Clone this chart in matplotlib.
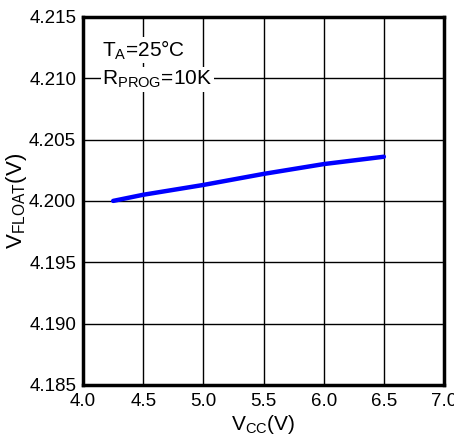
import numpy as np
import matplotlib.pyplot as plt

plt.rcParams['font.family'] = ['Liberation Sans', 'DejaVu Sans']
plt.rcParams['mathtext.fontset'] = 'custom'
plt.rcParams['mathtext.rm'] = 'Liberation Sans'
plt.rcParams['mathtext.it'] = 'Liberation Sans'

# Float voltage vs supply voltage
vcc = [4.25, 4.5, 5.0, 5.5, 6.0, 6.5]
vfloat = [4.2000, 4.2005, 4.2013, 4.2022, 4.2030, 4.2036]

x_ticks = [4.0, 4.5, 5.0, 5.5, 6.0, 6.5, 7.0]
y_ticks = [4.185, 4.190, 4.195, 4.200, 4.205, 4.210, 4.215]

fig = plt.figure(figsize=(4.54, 4.43), dpi=100)
ax = fig.add_axes([0.183, 0.131, 0.795, 0.831])

ax.plot(vcc, vfloat, color='#0000ff', linewidth=3.2, solid_capstyle='round', zorder=3)

ax.set_xlim(4.0, 7.0)
ax.set_ylim(4.185, 4.215)
ax.set_xticks(x_ticks)
ax.set_xticklabels([f'{v:.1f}' for v in x_ticks])
ax.set_yticks(y_ticks)
ax.set_yticklabels([f'{v:.3f}' for v in y_ticks])
ax.tick_params(length=0, labelsize=13.5)
ax.tick_params(axis='x', pad=6)
ax.tick_params(axis='y', pad=5)
ax.grid(True, color='black', linewidth=1.0)
ax.set_axisbelow(True)
for s in ax.spines.values():
    s.set_linewidth(2.5)

ax.set_xlabel(r'V$_{\mathrm{CC}}$(V)', fontsize=15, labelpad=2)
ax.set_ylabel(r'V$_{\mathrm{FLOAT}}$(V)', fontsize=16)
ax.yaxis.set_label_coords(-0.15, 0.5)

box = dict(facecolor='white', edgecolor='none', pad=1)
ax.text(4.16, 4.2123, r'T$_{\mathrm{A}}$=25°C', fontsize=15, va='center', ha='left', bbox=box, zorder=4)
ax.text(4.16, 4.2099, r'R$_{\mathrm{PROG}}$=10K', fontsize=15, va='center', ha='left', bbox=box, zorder=4)

fig.savefig('out.png', dpi=100)
